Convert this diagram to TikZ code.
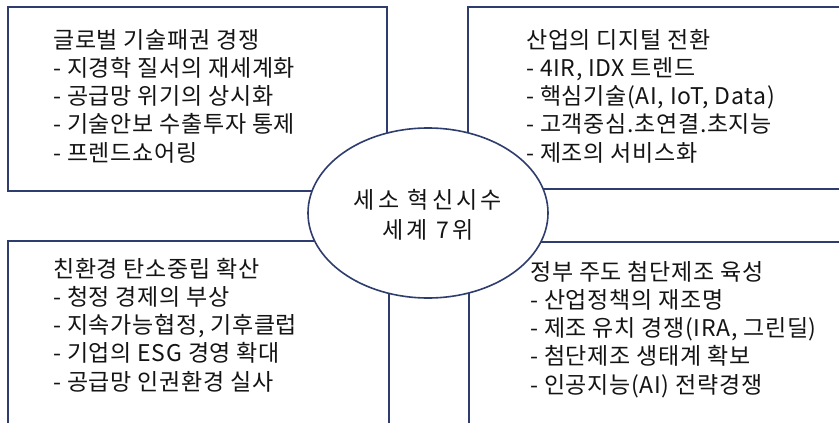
\documentclass[tikz,border=0pt]{standalone}
\usepackage{fontspec}
\usetikzlibrary{shapes.geometric}
\setmainfont[LetterSpace=3]{Noto Sans CJK KR}
\newfontfamily\corefont[LetterSpace=14]{Noto Sans CJK KR}
\definecolor{navy}{HTML}{2E3D6E}
\definecolor{txt}{HTML}{141414}
\begin{document}
\begin{tikzpicture}[x=1pt,y=-1pt,
  frame/.style={draw=navy,line width=1.6pt},
  bodytext/.style={anchor=north west,inner sep=0pt,align=left,text=txt,
    font=\fontsize{23}{28.2}\selectfont},
  centertext/.style={align=center,text=txt,font=\corefont\fontsize{23}{30}\selectfont}]
\useasboundingbox (0,0) rectangle (839,423);
\clip (0,0) rectangle (839,423);
\fill[white] (0,0) rectangle (839,423);
% boxes
\draw[frame] (8,7) rectangle (387,191);
\draw[frame] (468,7) rectangle (860,189);
\draw[frame] (8,241) rectangle (389,440);
\draw[frame] (469,242) rectangle (860,440);
% texts
\node[bodytext] (tl) at (53,29) {글로벌 기술패권 경쟁\\- 지경학 질서의 재세계화\\- 공급망 위기의 상시화\\- 기술안보 수출투자 통제\\- 프렌드쇼어링};
\node[bodytext] (tr) at (526,29) {산업의 디지털 전환\\- 4IR, IDX 트렌드\\- 핵심기술(AI, IoT, Data)\\- 고객중심.초연결.초지능\\- 제조의 서비스화};
\node[bodytext] (bl) at (53,258) {친환경 탄소중립 확산\\- 청정 경제의 부상\\- 지속가능협정, 기후클럽\\- 기업의 ESG 경영 확대\\- 공급망 인권환경 실사};
\node[bodytext] (br) at (530,261) {정부 주도 첨단제조 육성\\- 산업정책의 재조명\\- 제조 유치 경쟁(IRA, 그린딜)\\- 첨단제조 생태계 확보\\- 인공지능(AI) 전략경쟁};
% ellipse
\node[draw=navy,line width=1.6pt,fill=white,ellipse,minimum width=240pt,minimum height=170pt,inner sep=0pt] (core) at (428,213) {};
\node[centertext] (coretext) at (428,215) {세소 혁신시수\\세계 7위};
\end{tikzpicture}
\end{document}
